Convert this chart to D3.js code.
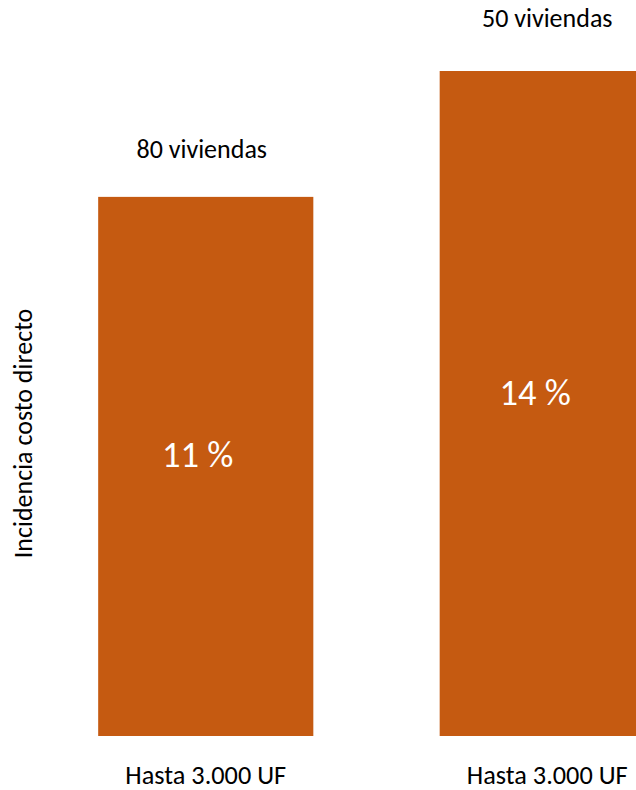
<!DOCTYPE html>
<html>
<head>
<meta charset="utf-8">
<script src="https://cdn.jsdelivr.net/npm/d3@7"></script>
<style>
  html, body { margin: 0; padding: 0; background: #fff; overflow: hidden; }
  text { font-family: Carlito, Calibri, Lato, "Open Sans", sans-serif; }
</style>
</head>
<body>
<svg id="chart" width="636" height="790"></svg>
<script>
// Data
const categories = ["Hasta 3.000 UF (a)", "Hasta 3.000 UF (b)"];
const categoryLabels = ["Hasta 3.000 UF", "Hasta 3.000 UF"];
const values = [11.35, 14.0];          // incidencia costo directo (%)
const valueLabels = ["11 %", "14 %"];
const unitLabels = ["80 viviendas", "50 viviendas"];
const yTitle = "Incidencia costo directo";

const svg = d3.select("#chart");
const baseY = 736, topY = 71;

const x = d3.scaleBand()
  .domain(categories)
  .range([35, 718])
  .paddingInner(0.37)
  .paddingOuter(0.185);

const y = d3.scaleLinear()
  .domain([0, d3.max(values)])
  .range([baseY, topY]);

const data = categories.map((c, i) => ({
  cat: c, value: values[i], label: valueLabels[i],
  unit: unitLabels[i], xlabel: categoryLabels[i]
}));

const aboveOffsets = [39, 44];
const valueDx = [-8, -12];
const unitDx = [-4, 0];

svg.selectAll("rect.bar")
  .data(data)
  .join("rect")
  .attr("class", "bar")
  .attr("x", d => x(d.cat))
  .attr("y", d => y(d.value))
  .attr("width", x.bandwidth())
  .attr("height", d => y(0) - y(d.value))
  .attr("fill", "#C55A11");

// value labels inside bars
svg.selectAll("text.val")
  .data(data)
  .join("text")
  .attr("class", "val")
  .attr("x", d => x(d.cat) + x.bandwidth() / 2)
  .attr("dx", (d, i) => valueDx[i])
  .attr("y", d => (y(d.value) + y(0)) / 2 + 1)
  .attr("text-anchor", "middle")
  .attr("font-size", 36.5)
  .attr("fill", "#ffffff")
  .text(d => d.label);

// labels above bars
svg.selectAll("text.unit")
  .data(data)
  .join("text")
  .attr("class", "unit")
  .attr("x", d => x(d.cat) + x.bandwidth() / 2)
  .attr("dx", (d, i) => unitDx[i])
  .attr("y", (d, i) => y(d.value) - aboveOffsets[i])
  .attr("text-anchor", "middle")
  .attr("font-size", 26)
  .attr("fill", "#000")
  .text(d => d.unit);

// category labels
svg.selectAll("text.cat")
  .data(data)
  .join("text")
  .attr("class", "cat")
  .attr("x", d => x(d.cat) + x.bandwidth() / 2)
  .attr("y", 784)
  .attr("text-anchor", "middle")
  .attr("font-size", 26.3)
  .attr("fill", "#000")
  .text(d => d.xlabel);

// y axis title
svg.append("text")
  .attr("transform", "translate(32,433.5) rotate(-90)")
  .attr("text-anchor", "middle")
  .attr("font-size", 26)
  .attr("fill", "#000")
  .text(yTitle);
</script>
</body>
</html>
